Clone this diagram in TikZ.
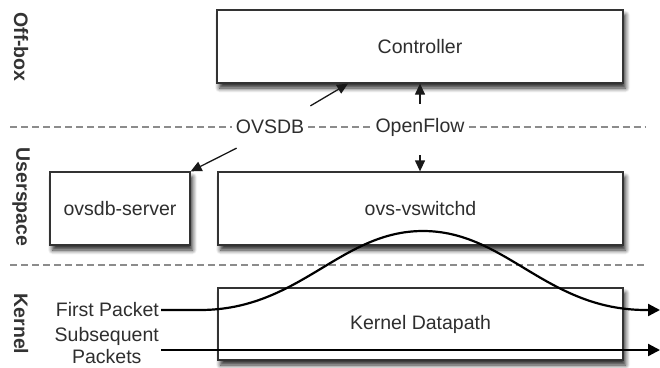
\documentclass[tikz,border=0pt]{standalone}
\usepackage{fontspec}
\setmainfont{Liberation Sans}
\usetikzlibrary{arrows.meta,shadows.blur}
\begin{document}
\begin{tikzpicture}[x=1pt,y=-1pt,
  every node/.style={font=\fontsize{19.5}{24}\selectfont, text=black!82},
  box/.style={draw=black!80, line width=1.3pt, fill=white,
    blur shadow={shadow xshift=2.5pt, shadow yshift=-5pt, shadow blur radius=4.5pt, shadow blur steps=8, shadow opacity=85}},
  side/.style={font=\fontsize{19.5}{24}\selectfont\bfseries, rotate=-90, text=black!80},
  lbl/.style={fill=white, inner sep=4pt},
  sep/.style={draw=black!45, line width=1.8pt, dash pattern=on 7pt off 4pt},
  arr/.style={draw=black!90, line width=1.3pt, -{Triangle[length=11pt,width=10pt]}},
  pkt/.style={draw=black, line width=2.2pt, -{Triangle[length=12pt,width=12pt]}}
]
\useasboundingbox (0,0) rectangle (660,367);

% separators
\coordinate (d1l) at (10,127);
\coordinate (d1r) at (645,127);
\coordinate (d2l) at (10,265);
\coordinate (d2r) at (645,265);
\node[lbl] (lovsdb) at (270,127) {OVSDB};
\node[lbl] (lof) at (420,127) {OpenFlow};
\draw[sep] (d1l) -- (lovsdb.west |- d1l);
\draw[sep] (lovsdb.east |- d1l) -- (lof.west |- d1l);
\draw[sep] (lof.east |- d1l) -- (d1r);
\draw[sep] (d2l) -- (d2r);

% side labels
\node[side] (offbox) at (21,47) {Off-box};
\node[side] (user) at (21,197) {Userspace};
\node[side] (kern) at (21,324) {Kernel};

% boxes
\node[box, minimum width=406pt, minimum height=73pt] (ctrl) at (420,46.5) {Controller};
\node[box, minimum width=140pt, minimum height=73pt] (ovsdb) at (120,208.5) {ovsdb-server};
\node[box, minimum width=405pt, minimum height=73pt] (vsw) at (420.5,208.5) {ovs-vswitchd};
\node[box, minimum width=405pt, minimum height=72pt] (kdp) at (420.5,324) {Kernel Datapath};

% control arrows
\draw[arr] ([shift={(2,-10)}]lovsdb.north east) -- ([xshift=-72pt]ctrl.south);
\draw[arr] ([shift={(5,10)}]lovsdb.south west) -- (ovsdb.north east);
\draw[arr] ([yshift=10pt]lof.north) -- (lof.north |- ctrl.south);
\draw[arr] ([yshift=-15pt]lof.south) -- (lof.south |- vsw.north);

% packets
\node[inner sep=2pt, anchor=east] (fp) at (161,310) {First Packet};
\node[inner sep=2pt, anchor=east, align=center,
  font=\fontsize{19.5}{22}\selectfont] (sp) at (161,346) {Subsequent\\Packets};
\coordinate (c1) at (200,310);
\coordinate (c2) at (300,310);
\coordinate (c3) at (340,231);
\coordinate (peak) at (423,231);
\coordinate (c5) at (506,231);
\coordinate (c6) at (546,310);
\coordinate (c7) at (646,310);
\coordinate (fpend) at (660,310);
\coordinate (spend) at (660,350);
\draw[pkt] (fp.east) -- (c1) .. controls (c2) and (c3) .. (peak)
  .. controls (c5) and (c6) .. (c7) -- (fpend);
\draw[pkt] (sp.east |- spend) -- (spend);
\end{tikzpicture}
\end{document}
